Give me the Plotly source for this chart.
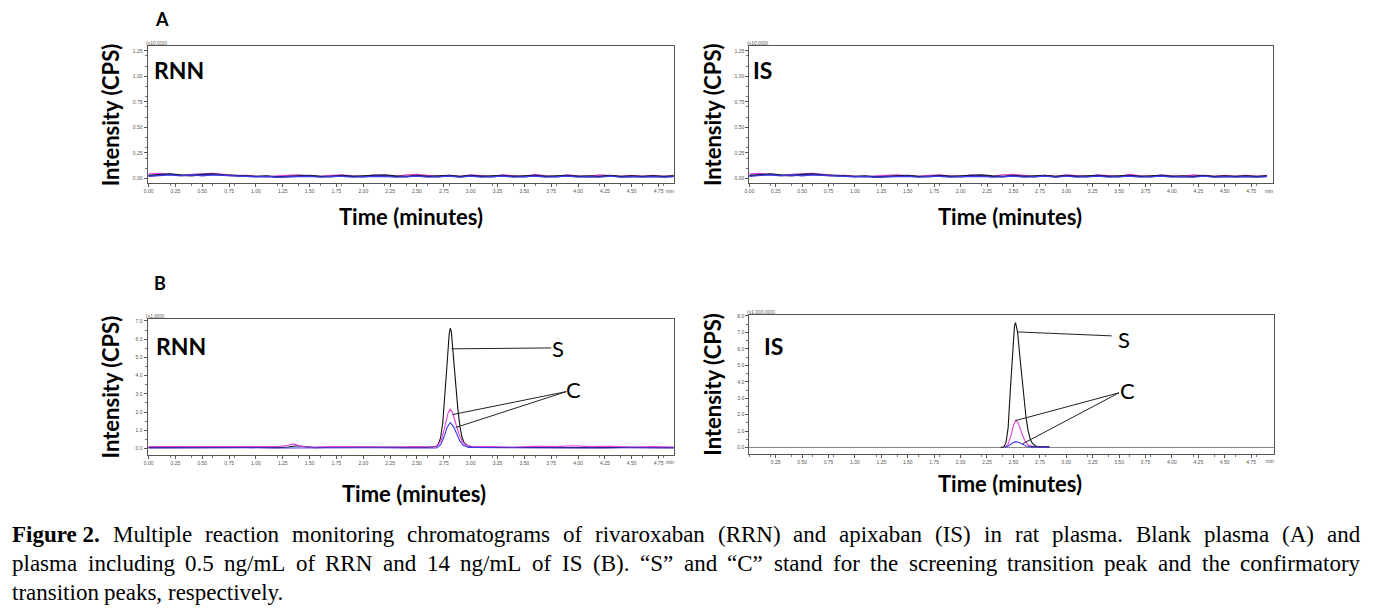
import plotly.graph_objects as go

W, H = 1383, 616
# the page puts the plot a few px in from the corner, so the figure is a bit smaller
OX, OY = 10, 9
FW, FH = W - 2 * OX, H - 2 * OY
PAD = 5  # left padding plotly puts inside an annotation box

# ---- data ----
# blank plasma (A), intensity in x10,000 cps; same traces in both A panels
t_blank = [0.0, 0.1, 0.2, 0.3, 0.4, 0.5, 0.6, 0.7, 0.8, 0.9, 1.0, 1.1, 1.2, 1.3, 1.4,
           1.5, 1.6, 1.7, 1.8, 1.9, 2.0, 2.1, 2.2, 2.3, 2.4, 2.5, 2.6, 2.7, 2.8, 2.9,
           3.0, 3.1, 3.2, 3.3, 3.4, 3.5, 3.6, 3.7, 3.8, 3.9, 4.0, 4.1, 4.2, 4.3, 4.4,
           4.5, 4.6, 4.7, 4.8, 4.9]
a_black = [0.030, 0.040, 0.045, 0.035, 0.030, 0.040, 0.045, 0.035, 0.030, 0.025,
           0.020, 0.025, 0.015, 0.020, 0.025, 0.030, 0.020, 0.020, 0.030, 0.020,
           0.025, 0.030, 0.035, 0.025, 0.020, 0.030, 0.020, 0.025, 0.030, 0.020,
           0.030, 0.020, 0.025, 0.030, 0.020, 0.025, 0.030, 0.020, 0.025, 0.030,
           0.020, 0.025, 0.020, 0.030, 0.020, 0.025, 0.020, 0.025, 0.020, 0.025]
a_pink = [0.045, 0.050, 0.040, 0.030, 0.040, 0.045, 0.050, 0.040, 0.030, 0.030,
          0.020, 0.015, 0.025, 0.030, 0.035, 0.025, 0.020, 0.030, 0.035, 0.025,
          0.020, 0.035, 0.025, 0.020, 0.035, 0.040, 0.030, 0.020, 0.030, 0.020,
          0.035, 0.025, 0.020, 0.035, 0.025, 0.020, 0.040, 0.025, 0.020, 0.035,
          0.025, 0.020, 0.035, 0.025, 0.020, 0.030, 0.020, 0.030, 0.020, 0.030]
a_blue = [0.020, 0.030, 0.035, 0.025, 0.035, 0.025, 0.035, 0.030, 0.025, 0.020,
          0.015, 0.020, 0.010, 0.015, 0.020, 0.020, 0.012, 0.020, 0.020, 0.012,
          0.018, 0.022, 0.020, 0.012, 0.018, 0.022, 0.012, 0.018, 0.022, 0.012,
          0.022, 0.012, 0.018, 0.022, 0.012, 0.018, 0.022, 0.012, 0.018, 0.022,
          0.012, 0.018, 0.012, 0.022, 0.012, 0.018, 0.012, 0.018, 0.012, 0.018]
a_navy = [0.025, 0.030, 0.040, 0.030, 0.025, 0.035, 0.040, 0.030, 0.025, 0.020,
          0.018, 0.020, 0.012, 0.018, 0.022, 0.025, 0.018, 0.015, 0.025, 0.018,
          0.015, 0.025, 0.028, 0.020, 0.015, 0.025, 0.018, 0.015, 0.025, 0.015,
          0.025, 0.018, 0.015, 0.025, 0.018, 0.015, 0.025, 0.018, 0.015, 0.025,
          0.018, 0.015, 0.018, 0.025, 0.015, 0.018, 0.015, 0.020, 0.015, 0.020]

# RRN in spiked plasma (B), x1,000 cps
t_rnn_k = [0.0, 0.2, 0.4, 0.6, 0.8, 1.0, 1.2, 1.3, 1.38, 1.45, 1.55, 1.8, 2.0, 2.2,
           2.4, 2.6, 2.66, 2.68, 2.70, 2.72, 2.74, 2.76, 2.78, 2.80, 2.81, 2.82, 2.84,
           2.86, 2.88, 2.90, 2.92, 2.94, 2.97, 3.02, 3.2, 3.4, 3.6, 3.8, 4.0, 4.2,
           4.4, 4.6, 4.8, 4.9]
rnn_k = [0.05, 0.06, 0.05, 0.06, 0.05, 0.06, 0.05, 0.08, 0.15, 0.10, 0.05, 0.08,
         0.06, 0.05, 0.06, 0.06, 0.08, 0.12, 0.25, 0.6, 1.4, 2.8, 4.6, 6.3, 6.6, 6.4,
         5.2, 3.6, 2.2, 1.2, 0.6, 0.3, 0.15, 0.08, 0.06, 0.05, 0.06, 0.05, 0.06,
         0.05, 0.06, 0.05, 0.06, 0.05]
t_rnn_p = [0.0, 0.15, 0.3, 0.5, 0.7, 0.85, 1.0, 1.2, 1.3, 1.35, 1.42, 1.5, 1.7, 1.9,
           2.1, 2.3, 2.5, 2.66, 2.70, 2.73, 2.76, 2.79, 2.81, 2.83, 2.86, 2.89, 2.92,
           2.95, 3.00, 3.2, 3.4, 3.6, 3.8, 3.95, 4.1, 4.3, 4.5, 4.7, 4.9]
rnn_p = [0.10, 0.10, 0.12, 0.10, 0.08, 0.12, 0.08, 0.10, 0.18, 0.25, 0.12, 0.06,
         0.10, 0.08, 0.10, 0.08, 0.10, 0.08, 0.20, 0.50, 1.20, 1.95, 2.15, 2.00,
         1.40, 0.80, 0.40, 0.20, 0.12, 0.10, 0.08, 0.12, 0.10, 0.15, 0.10, 0.12,
         0.08, 0.10, 0.08]
t_rnn_b = [0.0, 0.3, 0.6, 0.9, 1.2, 1.5, 1.8, 2.1, 2.4, 2.68, 2.72, 2.75, 2.78,
           2.81, 2.84, 2.87, 2.90, 2.93, 2.98, 3.3, 3.6, 3.9, 4.2, 4.5, 4.9]
rnn_b = [0.03, 0.04, 0.03, 0.04, 0.03, 0.04, 0.03, 0.04, 0.03, 0.03, 0.2, 0.6,
         1.15, 1.42, 1.2, 0.75, 0.4, 0.18, 0.06, 0.04, 0.03, 0.04, 0.03, 0.04, 0.03]

# IS in spiked plasma (B), x1,000,000 cps
t_is_k = [2.38, 2.41, 2.43, 2.45, 2.47, 2.49, 2.51, 2.52, 2.54, 2.56, 2.58, 2.60,
          2.62, 2.64, 2.66, 2.68, 2.71, 2.75, 2.84]
is_k = [0.0, 0.05, 0.3, 1.2, 3.4, 5.8, 7.4, 7.6, 7.0, 5.6, 4.2, 2.9, 1.8, 1.0,
        0.5, 0.25, 0.1, 0.04, 0.02]
t_is_p = [2.42, 2.45, 2.48, 2.50, 2.52, 2.54, 2.56, 2.58, 2.61, 2.64, 2.68, 2.75, 2.84]
is_p = [0.02, 0.2, 0.8, 1.35, 1.64, 1.55, 1.25, 0.85, 0.4, 0.15, 0.06, 0.03, 0.03]
t_is_b = [2.42, 2.46, 2.49, 2.52, 2.55, 2.58, 2.62, 2.66, 2.75, 2.84]
is_b = [0.02, 0.12, 0.28, 0.36, 0.32, 0.22, 0.1, 0.05, 0.03, 0.03]
t_is_n = [2.66, 2.84]
is_n = [0.05, 0.05]

x_ticks = [0.0, 0.25, 0.5, 0.75, 1.0, 1.25, 1.5, 1.75, 2.0, 2.25, 2.5, 2.75, 3.0,
           3.25, 3.5, 3.75, 4.0, 4.25, 4.5, 4.75]
y_ticks_a = [0.0, 0.25, 0.5, 0.75, 1.0, 1.25]
y_ticks_rnn = [0.0, 1.0, 2.0, 3.0, 4.0, 5.0, 6.0, 7.0]
y_ticks_is = [0.0, 1.0, 2.0, 3.0, 4.0, 5.0, 6.0, 7.0, 8.0]

caption = [
    ["<b>Figure 2.</b>", "Multiple reaction monitoring chromatograms of rivaroxaban (RRN) and apixaban (IS) in rat plasma. Blank plasma (A) and"],
    ["", "plasma including 0.5 ng/mL of RRN and 14 ng/mL of IS (B). \u201cS\u201d and \u201cC\u201d stand for the screening transition peak and the confirmatory"],
    ["", "transition peaks, respectively."],
]

BLACK, PINK, BLUE, NAVY = "#111111", "#e040e0", "#3a3ae8", "#20206e"


def px(x):
    return (x - OX) / FW


def py(y):
    return 1 - (y - OY) / FH


# Times-Roman advance widths (Liberation Serif shares them), used to justify the caption
TW = {" ": 250, "(": 333, ")": 333, ",": 250, ".": 250, "/": 278, "\u201c": 444, "\u201d": 444}
TW.update({c: 500 for c in "0123456789"})
TW.update(dict(zip("ABCDEFGHIJKLMNOPQRSTUVWXYZ",
                   [722, 667, 667, 722, 611, 556, 722, 722, 333, 389, 722, 611, 889, 722, 722,
                    556, 722, 667, 556, 611, 722, 722, 944, 722, 722, 611])))
TW.update(dict(zip("abcdefghijklmnopqrstuvwxyz",
                   [444, 500, 444, 500, 444, 333, 500, 500, 278, 278, 500, 278, 778, 500, 500,
                    500, 500, 333, 389, 278, 500, 500, 722, 500, 500, 444])))
TB = {"F": 611, "i": 278, "g": 500, "u": 556, "r": 444, "e": 444, "2": 500, ".": 250}


def text_w(s, size, bold=False):
    tab = TB if bold else TW
    return sum(tab.get(c, TW.get(c, 500)) for c in s) * size / 1000.0


fig = go.Figure()

panels = [
    # axis suffix, x px range, y px range
    ("", (145, 673), (45, 183)),
    ("2", (749, 1275), (45, 183)),
    ("3", (145, 673), (319, 455)),
    ("4", (749, 1276), (315, 454)),
]

series = {
    "": [(t_blank, a_pink, PINK), (t_blank, a_black, BLACK), (t_blank, a_navy, NAVY), (t_blank, a_blue, BLUE)],
    "2": [(t_blank, a_pink, PINK), (t_blank, a_black, BLACK), (t_blank, a_navy, NAVY), (t_blank, a_blue, BLUE)],
    "3": [(t_rnn_k, rnn_k, BLACK), (t_rnn_p, rnn_p, PINK), (t_rnn_b, rnn_b, BLUE)],
    "4": [(t_is_k, is_k, BLACK), (t_is_p, is_p, PINK), (t_is_b, is_b, BLUE), (t_is_n, is_n, NAVY)],
}

for s, xs, ys in panels:
    for t, v, c in series[s]:
        fig.add_trace(go.Scatter(x=t, y=v, mode="lines", line=dict(color=c, width=1.1),
                                 xaxis="x" + s, yaxis="y" + s, showlegend=False,
                                 hoverinfo="skip"))

tickfont = dict(family="Arial", size=5, color="#555555")
axis_common = dict(showline=True, mirror=True, linecolor="#555555", linewidth=1,
                   showgrid=False, ticks="outside", ticklen=3, tickcolor="#555555",
                   tickfont=tickfont)

y_ranges = {"": [-0.049, 1.299], "2": [-0.049, 1.299], "3": [-0.33, 7.11], "4": [-0.36, 8.06]}
x_ranges = {"": [-0.01, 4.89], "2": [0.0, 4.96], "3": [-0.01, 4.89], "4": [0.0, 4.97]}
y_ticks = {"": (y_ticks_a, ".2f"), "2": (y_ticks_a, ".2f"), "3": (y_ticks_rnn, ".1f"),
           "4": (y_ticks_is, ".1f")}

for s, xs, ys in panels:
    xk = "xaxis" + s
    yk = "yaxis" + s
    xt = x_ticks[1:] if s == "4" else x_ticks
    yv, fmt = y_ticks[s]
    fig.layout[xk] = dict(axis_common, domain=[px(xs[0]), px(xs[1])], range=x_ranges[s],
                          tickvals=xt, tickformat=".2f", zeroline=False,
                          anchor="y" + s)
    fig.layout[yk] = dict(axis_common, domain=[py(ys[1]), py(ys[0])], range=y_ranges[s],
                          tickvals=yv, tickformat=fmt,
                          zeroline=(s == "4"), zerolinecolor="#888888", zerolinewidth=1,
                          anchor="x" + s)
    fig.layout[yk].minor = dict(ticks="outside", ticklen=2, tickcolor="#777777", nticks=5)
    fig.layout[xk].minor = dict(ticks="outside", ticklen=2, tickcolor="#777777", nticks=5)

ann = []
bold = dict(family="Lato", size=22, color="black")
bold_big = dict(family="Lato", size=23, color="black")

# y titles and x titles
for s, xs, ys in panels:
    ann.append(dict(x=px(xs[0] - 37), y=py((ys[0] + ys[1]) / 2), xref="paper", yref="paper",
                    text="<b>Intensity (CPS)</b>", textangle=-90, showarrow=False, font=bold,
                    xanchor="center", yanchor="middle"))
    ty = {"": 216, "2": 216, "3": 494, "4": 484}[s]
    tx = {"": 409, "2": 1011, "3": 412, "4": 1011}[s]
    ann.append(dict(x=px(tx), y=py(ty), xref="paper", yref="paper", text="<b>Time (minutes)</b>",
                    showarrow=False, font=bold, xanchor="center", yanchor="middle"))
    ann.append(dict(x=px(xs[1] - 4), y=py(ys[1] + 8), xref="paper", yref="paper", text="min",
                    showarrow=False, font=tickfont, xanchor="center", yanchor="middle"))

# multiplier labels
for s, txt, xy in [("", "(x10,000)", (143, 42)), ("2", "(x10,000)", (747, 42)),
                   ("3", "(x1,000)", (143, 316)), ("4", "(x1,000,000)", (747, 312))]:
    ann.append(dict(x=px(xy[0] - 2), y=py(xy[1]), xref="paper", yref="paper", text=txt,
                    showarrow=False, font=tickfont, xanchor="left", yanchor="middle"))

# panel names
for txt, xy in [("RNN", (155, 69)), ("IS", (756, 69)), ("RNN", (157, 346)), ("IS", (767, 346))]:
    ann.append(dict(x=px(xy[0] - PAD), y=py(xy[1]), xref="paper", yref="paper",
                    text="<b>%s</b>" % txt, showarrow=False, font=bold_big,
                    xanchor="left", yanchor="middle"))

for txt, xy in [("A", (160, 18)), ("B", (158, 283))]:
    ann.append(dict(x=px(xy[0]), y=py(xy[1]), xref="paper", yref="paper", text="<b>%s</b>" % txt,
                    showarrow=False, font=dict(family="Lato", size=18, color="black"),
                    xanchor="center", yanchor="middle"))

# S / C labels with leader lines (data coordinates)
reg = dict(family="Lato", size=22, color="black")
shapes = []
lab = [
    ("3", "S", (3.74, 5.47), [((2.82, 5.47), (3.75, 5.52))]),
    ("3", "C", (3.87, 3.23), [((3.89, 3.12), (2.83, 1.86)), ((3.89, 3.12), (2.86, 1.15))]),
    ("4", "S", (3.47, 6.55), [((2.54, 7.03), (3.43, 6.79))]),
    ("4", "C", (3.49, 3.50), [((3.50, 3.33), (2.52, 1.64)), ((3.50, 3.33), (2.59, 0.24))]),
]
for s, txt, pos, lines in lab:
    ann.append(dict(x=pos[0], y=pos[1], xref="x" + s, yref="y" + s, text=txt, showarrow=False,
                    font=reg, xanchor="left", yanchor="middle"))
    for a, b in lines:
        shapes.append(dict(type="line", xref="x" + s, yref="y" + s, x0=a[0], y0=a[1],
                           x1=b[0], y1=b[1], line=dict(color="#222222", width=1)))

# caption, justified word by word between x=12 and x=1365
CAP = 23
cap_font = dict(family="Liberation Serif", size=CAP, color="black")
cap_y = [535, 564, 593]
for i, (lead, rest) in enumerate(caption):
    words = ([lead] if lead else []) + rest.split(" ")
    plain = [w.replace("<b>", "").replace("</b>", "") for w in words]
    widths = [text_w(p, CAP, bold=w.startswith("<b>")) for w, p in zip(words, plain)]
    natural_gap = text_w(" ", CAP)
    if i < len(caption) - 1:
        gap = (1365 - 12 - sum(widths)) / (len(words) - 1)
    else:
        gap = natural_gap
    x = 12
    for w, wd in zip(words, widths):
        ann.append(dict(x=px(x - PAD), y=py(cap_y[i]), xref="paper", yref="paper", text=w,
                        showarrow=False, font=cap_font, xanchor="left", yanchor="middle"))
        x += wd + gap

fig.update_layout(width=FW, height=FH, margin=dict(l=0, r=0, t=0, b=0),
                  paper_bgcolor="white", plot_bgcolor="white",
                  annotations=ann, shapes=shapes, showlegend=False)

fig.write_html("out.html")
